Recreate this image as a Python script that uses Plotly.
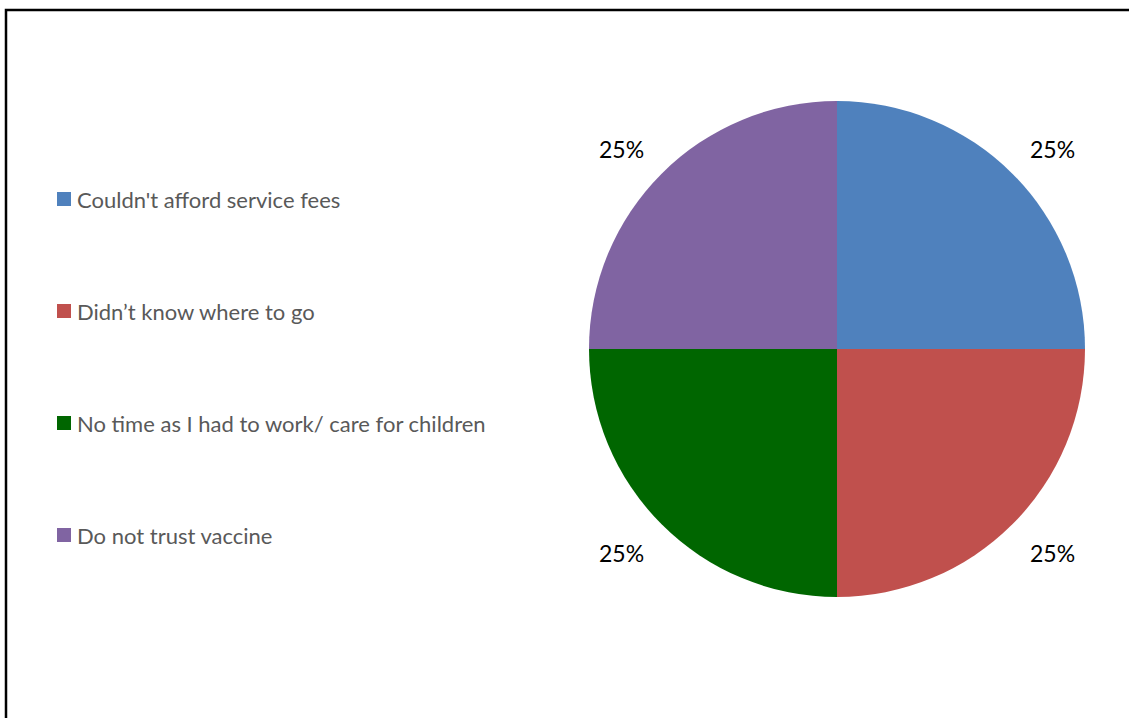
import plotly.graph_objects as go
import math

categories = ["Couldn't afford service fees", "Didn\u2019t know where to go",
              "No time as I had to work/ care for children", "Do not trust vaccine"]
values = [25, 25, 25, 25]
colors = ["#4F81BD", "#C0504D", "#006600", "#8064A2"]

W, H = 1129, 718
cx, cy, R = 837, 349, 248

fig = go.Figure()
fig.add_trace(go.Pie(
    labels=categories, values=values, sort=False, direction="clockwise", rotation=0,
    marker=dict(colors=colors, line=dict(width=0)),
    textinfo="none", hoverinfo="label+percent", showlegend=False,
    domain=dict(x=[(cx - R) / W, (cx + R) / W], y=[1 - (cy + R) / H, 1 - (cy - R) / H]),
))

total = sum(values)
cum = 0
for v in values:
    mid = (cum + v / 2) / total * 2 * math.pi
    cum += v
    lx = cx + 305 * math.sin(mid)
    ly = cy + 2 - 286 * math.cos(mid)
    fig.add_annotation(x=lx / W, y=1 - ly / H, xref="paper", yref="paper",
                       xanchor="center", yanchor="middle",
                       text=f"{round(v / total * 100)}%", showarrow=False,
                       font=dict(family="Lato", size=23, color="#000000"))

# manual legend
ly0, lstep = 199, 112
for i, (c, lab) in enumerate(zip(colors, categories)):
    yy = ly0 + i * lstep
    fig.add_shape(type="rect", xref="paper", yref="paper",
                  x0=57 / W, x1=71 / W, y0=1 - (yy + 7) / H, y1=1 - (yy - 7) / H,
                  fillcolor=c, line=dict(width=0))
    fig.add_annotation(x=75 / W, y=1 - yy / H, xref="paper", yref="paper",
                       text=lab, showarrow=False, xanchor="left", yanchor="middle",
                       font=dict(family="Lato", size=22, color="#595959"))

# chart frame (left and top edges; the rest lies outside the view)
fx0, fy_top, fy_bot, fx1 = 6 / W, 1 - 10 / H, -0.1, 1.1
fig.add_shape(type="path", xref="paper", yref="paper",
              path=f"M {fx0},{fy_bot} L {fx0},{fy_top} L {fx1},{fy_top}",
              line=dict(color="#000000", width=2.5))

fig.update_layout(width=W, height=H, margin=dict(l=0, r=0, t=0, b=0),
                  paper_bgcolor="white", plot_bgcolor="white", showlegend=False)
fig.write_html("out.html", config={"displayModeBar": False},
               post_script="document.body.style.margin='0px';document.body.style.overflow='hidden';")
